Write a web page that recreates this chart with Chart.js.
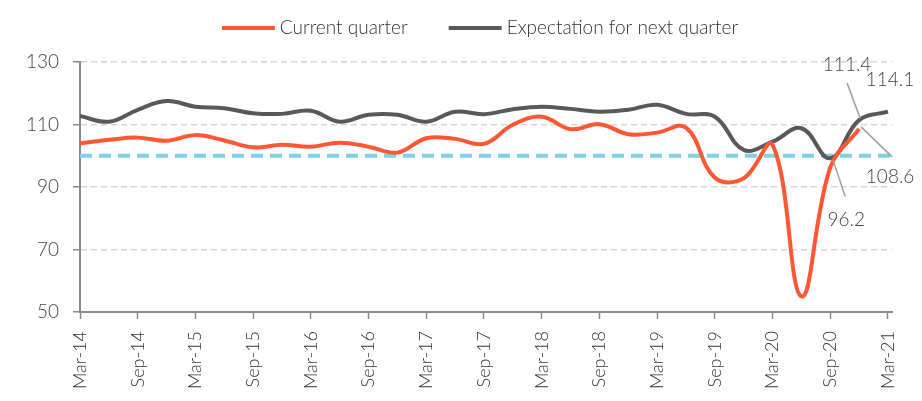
<!DOCTYPE html>
<html>
<head>
<meta charset="utf-8">
<script src="https://cdn.jsdelivr.net/npm/chart.js@4.4.1/dist/chart.umd.min.js"></script>
<style>
  body { margin: 0; background: #fff; }
  #wrap { width: 922px; height: 401px; }
</style>
</head>
<body>
<div id="wrap"><canvas id="confidenceChart" width="922" height="401"></canvas></div>
<script>
// quarterly survey index, Mar-14 .. Mar-21
const quarters = [
  'Mar-14', 'Jun-14', 'Sep-14', 'Dec-14',
  'Mar-15', 'Jun-15', 'Sep-15', 'Dec-15',
  'Mar-16', 'Jun-16', 'Sep-16', 'Dec-16',
  'Mar-17', 'Jun-17', 'Sep-17', 'Dec-17',
  'Mar-18', 'Jun-18', 'Sep-18', 'Dec-18',
  'Mar-19', 'Jun-19', 'Sep-19', 'Dec-19',
  'Mar-20', 'Jun-20', 'Sep-20', 'Dec-20',
  'Mar-21'
];

const currentQuarter = [
  104.0, 105.1, 105.8, 104.8, 106.6, 104.9, 102.7, 103.5,
  102.9, 104.2, 102.9, 101.0, 105.6, 105.4, 103.8, 109.9,
  112.5, 108.5, 110.1, 106.9, 107.4, 109.0, 93.0, 92.8,
  103.5, 55.0, 96.2, 108.6, null
];

const nextQuarter = [
  112.7, 110.9, 114.7, 117.5, 115.7, 115.2, 113.6, 113.4,
  114.4, 110.9, 113.1, 113.1, 110.9, 114.1, 113.3, 114.9,
  115.7, 115.0, 114.1, 114.7, 116.3, 113.4, 112.5, 101.9,
  104.5, 108.8, 99.2, 111.4, 114.1
];

const yMin = 50;
const yMax = 130;
const yStep = 20;
const neutralLevel = 100;

const ORANGE = '#ff5733';
const GREY = '#595959';
const FONT = 'Lato, "Open Sans", sans-serif';

// which points get a value label, and where the text sits relative to the point
const callouts = [
  { ds: 1, idx: 27, text: [-12, -55], from: [-12, -37], to: [1, -2] },
  { ds: 1, idx: 28, text: [2, -32] },
  { ds: 0, idx: 27, text: [31, 48], from: [33, 28], to: [2, -2] },
  { ds: 0, idx: 26, text: [16, 52], from: [15, 29], to: [3, -7] }
];

// dashed reference line at 100 (drawn under the series)
const neutralLine = {
  id: 'neutralLine',
  beforeDatasetsDraw(chart) {
    const { ctx, chartArea, scales: { y } } = chart;
    const py = y.getPixelForValue(neutralLevel);
    ctx.save();
    ctx.strokeStyle = '#7fd1e7';
    ctx.lineWidth = 4;
    ctx.setLineDash([12, 7]);
    ctx.beginPath();
    ctx.moveTo(chartArea.left, py);
    ctx.lineTo(chartArea.right, py);
    ctx.stroke();
    ctx.restore();
  }
};

// value labels with thin leader lines
const valueLabels = {
  id: 'valueLabels',
  afterDatasetsDraw(chart) {
    const { ctx, scales: { x, y } } = chart;
    const sets = chart.data.datasets;
    ctx.save();
    ctx.font = '300 19px ' + FONT;
    ctx.fillStyle = '#444';
    ctx.textAlign = 'center';
    ctx.textBaseline = 'middle';
    ctx.strokeStyle = '#a0a0a0';
    ctx.lineWidth = 1.5;
    callouts.forEach(c => {
      const v = sets[c.ds].data[c.idx].y;
      const px = x.getPixelForValue(c.idx);
      const py = y.getPixelForValue(v);
      if (c.from) {
        ctx.beginPath();
        ctx.moveTo(px + c.from[0], py + c.from[1]);
        ctx.lineTo(px + c.to[0], py + c.to[1]);
        ctx.stroke();
      }
      ctx.fillText(v.toFixed(1), px + c.text[0], py + c.text[1]);
    });
    ctx.restore();
  }
};

// legend row across the top: line swatch + series name
const seriesKey = {
  id: 'seriesKey',
  afterDraw(chart) {
    const { ctx } = chart;
    const swatch = 53, gap = 5, itemGap = 41, rowY = 28;
    ctx.save();
    ctx.font = '300 19px ' + FONT;
    ctx.textBaseline = 'middle';
    ctx.textAlign = 'left';
    const items = chart.data.datasets.map(d => ({
      text: d.label,
      color: d.borderColor,
      w: swatch + gap + ctx.measureText(d.label).width
    }));
    const total = items.reduce((s, it) => s + it.w, 0) + itemGap * (items.length - 1);
    let cx = 480 - total / 2;
    items.forEach(it => {
      ctx.fillStyle = it.color;
      ctx.fillRect(cx, rowY - 2, swatch, 4);
      ctx.fillStyle = '#333';
      ctx.fillText(it.text, cx + swatch + gap, rowY);
      cx += it.w + itemGap;
    });
    ctx.restore();
  }
};

const toPoints = arr => arr.map((v, i) => ({ x: i, y: v }));

const ctx = document.getElementById('confidenceChart').getContext('2d');
new Chart(ctx, {
  type: 'line',
  data: {
    datasets: [
      {
        label: 'Current quarter',
        data: toPoints(currentQuarter),
        borderColor: ORANGE,
        backgroundColor: ORANGE,
        borderWidth: 4,
        pointRadius: 0,
        tension: 0.4,
        spanGaps: false
      },
      {
        label: 'Expectation for next quarter',
        data: toPoints(nextQuarter),
        borderColor: GREY,
        backgroundColor: GREY,
        borderWidth: 4,
        pointRadius: 0,
        tension: 0.4
      }
    ]
  },
  options: {
    responsive: false,
    animation: false,
    layout: { padding: { left: 0, right: 30, top: 62, bottom: 0 } },
    plugins: {
      tooltip: { enabled: false },
      legend: { display: false }
    },
    scales: {
      x: {
        type: 'linear',
        min: 0,
        max: 28.14,
        afterFit(scale) { scale.height = 89; },
        afterBuildTicks(scale) {
          scale.ticks = quarters.map((q, i) => ({ value: i })).filter(t => t.value % 2 === 0);
        },
        ticks: {
          autoSkip: false,
          minRotation: 90,
          maxRotation: 90,
          padding: 12,
          color: '#333',
          font: { family: FONT, size: 18, weight: '300' },
          callback: v => quarters[v]
        },
        grid: {
          drawOnChartArea: false,
          drawTicks: true,
          tickLength: 7,
          tickColor: '#8a8a8a',
          tickWidth: 1.5
        },
        border: { display: true, color: '#8a8a8a', width: 2 }
      },
      y: {
        min: yMin,
        max: yMax,
        afterFit(scale) { scale.width = 80; },
        ticks: {
          stepSize: yStep,
          padding: 14,
          color: '#444',
          font: { family: FONT, size: 19, weight: '300' }
        },
        grid: {
          color: '#d6d6d6',
          lineWidth: 1.5,
          tickLength: 7,
          tickColor: '#8a8a8a',
          tickWidth: 1.5
        },
        border: { display: true, color: '#8a8a8a', width: 2, dash: [6, 4] }
      }
    }
  },
  plugins: [neutralLine, valueLabels, seriesKey]
});
</script>
</body>
</html>
